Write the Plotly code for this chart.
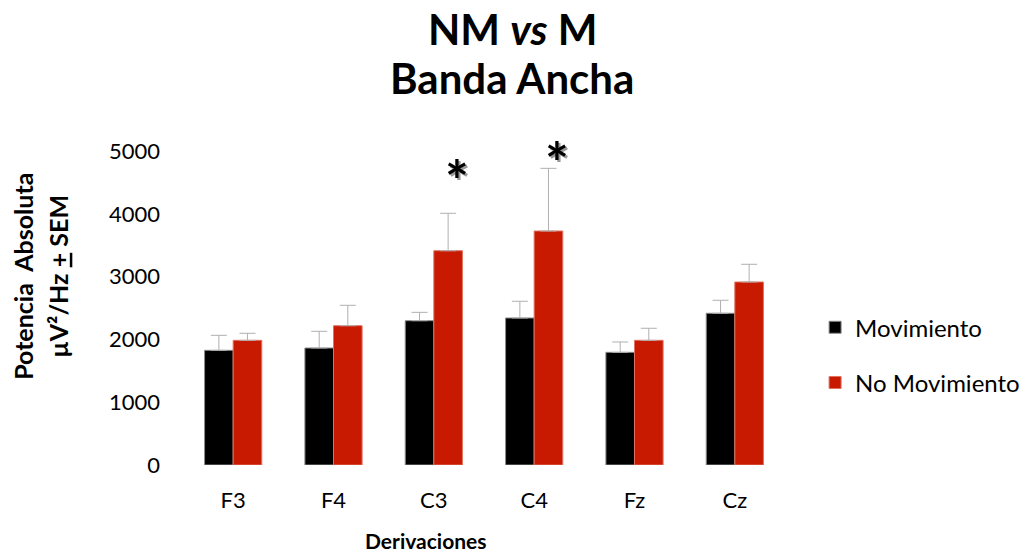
import plotly.graph_objects as go

categories = ["F3", "F4", "C3", "C4", "Fz", "Cz"]
movimiento = [1826, 1863, 2298, 2341, 1794, 2416]
movimiento_sem = [239, 266, 133, 266, 165, 207]
no_movimiento = [1985, 2218, 3412, 3726, 1985, 2914]
no_movimiento_sem = [112, 325, 596, 998, 192, 282]
y_ticks = [0, 1000, 2000, 3000, 4000, 5000]
sig_categories = ["C3", "C4"]
sig_y = [4700, 4990]

FONT = "Lato"

fig = go.Figure()
fig.add_trace(go.Bar(
    name="Movimiento", x=categories, y=movimiento,
    marker=dict(color="#000000", line=dict(color="#8a8a8a", width=1)),
    error_y=dict(type="data", array=movimiento_sem, arrayminus=[0]*6, symmetric=False,
                 color="#b0b0b0", thickness=1, width=8),
    legendgroup="a",
))
fig.add_trace(go.Bar(
    name="No Movimiento", x=categories, y=no_movimiento,
    marker=dict(color="#C81A00", line=dict(color="#e07060", width=1)),
    error_y=dict(type="data", array=no_movimiento_sem, arrayminus=[0]*6, symmetric=False,
                 color="#b0b0b0", thickness=1, width=8),
    legendgroup="b",
))

# significance asterisks with a soft shadow
for c, yv in zip(sig_categories, sig_y):
    fig.add_annotation(x=c, y=yv, xref="x", yref="y", text="<b>*</b>", showarrow=False,
                       xshift=25, yshift=-12, font=dict(family=FONT, size=56, color="#9a9a9a"))
    fig.add_annotation(x=c, y=yv, xref="x", yref="y", text="<b>*</b>", showarrow=False,
                       xshift=23, yshift=-10, font=dict(family=FONT, size=56, color="#000000"))

# title (two lines)
fig.add_annotation(xref="paper", yref="paper", x=0.547, y=1.39, xanchor="center", yanchor="middle",
                   text="<b>NM <i>vs</i> M</b>", showarrow=False,
                   font=dict(family=FONT, size=42, color="#000000"))
fig.add_annotation(xref="paper", yref="paper", x=0.547, y=1.231, xanchor="center", yanchor="middle",
                   text="<b>Banda Ancha</b>", showarrow=False,
                   font=dict(family=FONT, size=42, color="#000000"))

# y-axis title (two lines)
fig.add_annotation(xref="paper", yref="paper", x=-0.266, y=0.602, xanchor="center", yanchor="middle",
                   text="<b>Potencia  Absoluta</b>", textangle=-90, showarrow=False,
                   font=dict(family=FONT, size=25, color="#000000"))
fig.add_annotation(xref="paper", yref="paper", x=-0.208, y=0.602, xanchor="center", yanchor="middle",
                   text="<b>µV²/Hz <span style='text-decoration:underline'>+</span> SEM</b>",
                   textangle=-90, showarrow=False,
                   font=dict(family=FONT, size=25, color="#000000"))

# x-axis title
fig.add_annotation(xref="paper", yref="paper", x=0.404, y=-0.239, xanchor="center", yanchor="middle",
                   text="<b>Derivaciones</b>", showarrow=False,
                   font=dict(family=FONT, size=21, color="#000000"))

fig.update_layout(
    width=1027, height=552,
    margin=dict(l=183, r=242, t=151, b=87, autoexpand=False),
    paper_bgcolor="white", plot_bgcolor="white",
    font=dict(family=FONT, size=22, color="#000000"),
    barmode="group", bargap=0.43, bargroupgap=0,
    showlegend=True,
    legend=dict(x=1.05, y=0.509, xanchor="left", yanchor="top", tracegroupgap=21,
                font=dict(family=FONT, size=24, color="#000000"), itemwidth=30,
                bgcolor="rgba(0,0,0,0)"),
    xaxis=dict(showline=False, ticks="", showgrid=False, zeroline=False, automargin=False,
               ticklabelstandoff=20, tickfont=dict(family=FONT, size=22)),
    yaxis=dict(range=[0, 5000], tickvals=y_ticks, showline=False, ticks="", showgrid=False,
               zeroline=False, automargin=False,
               ticklabelstandoff=22, tickfont=dict(family=FONT, size=22)),
)

fig.write_html("out.html")
